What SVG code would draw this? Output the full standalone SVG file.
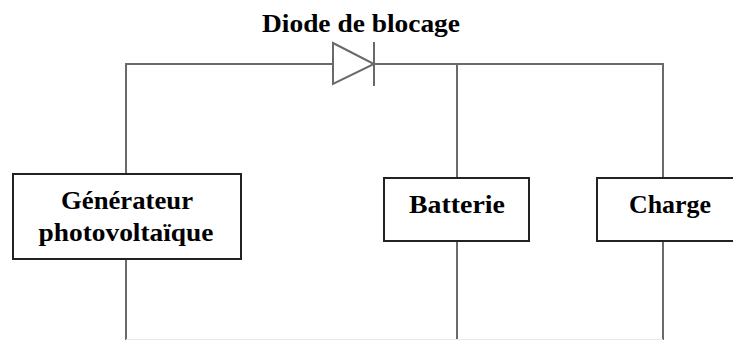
<svg xmlns="http://www.w3.org/2000/svg" width="733" height="340" viewBox="0 0 733 340">
<style>
.w{stroke:#6a6a6a;stroke-width:2;fill:none}
.b{fill:#fff;stroke:#222;stroke-width:2}
.t{font-family:"Liberation Serif","Times New Roman",serif;font-weight:bold;font-size:25px;fill:#000;text-anchor:middle}
</style>
<rect width="733" height="340" fill="#fff"/>
<g id="connectors">
<path class="w" d="M126 174 V64 H333 M374 64 H663 V178 M457 64 V178"/>
<path class="w" d="M126 259 V340 M457 241 V340 M663 241 V340"/>
<path d="M126 339.5 H663" stroke="#e8e8e8" stroke-width="1" fill="none"/>
</g>
<g id="diode">
<path class="w" d="M333 43 L374 64 L333 84 Z" stroke-width="1.5"/>
<path class="w" d="M374 42 V86"/>
<text class="t" x="361" y="32" textLength="198" lengthAdjust="spacingAndGlyphs">Diode de blocage</text>
</g>
<g id="generateur">
<rect class="b" x="13" y="174" width="228" height="85"/>
<text class="t" x="127" y="209" textLength="132" lengthAdjust="spacingAndGlyphs">Générateur</text>
<text class="t" x="126" y="241" textLength="175" lengthAdjust="spacingAndGlyphs">photovoltaïque</text>
</g>
<g id="batterie">
<rect class="b" x="384" y="178" width="145" height="63"/>
<text class="t" x="457" y="213" textLength="96" lengthAdjust="spacingAndGlyphs">Batterie</text>
</g>
<g id="charge">
<rect class="b" x="597" y="178" width="140" height="63"/>
<text class="t" x="670" y="213" textLength="82" lengthAdjust="spacingAndGlyphs">Charge</text>
</g>
</svg>
